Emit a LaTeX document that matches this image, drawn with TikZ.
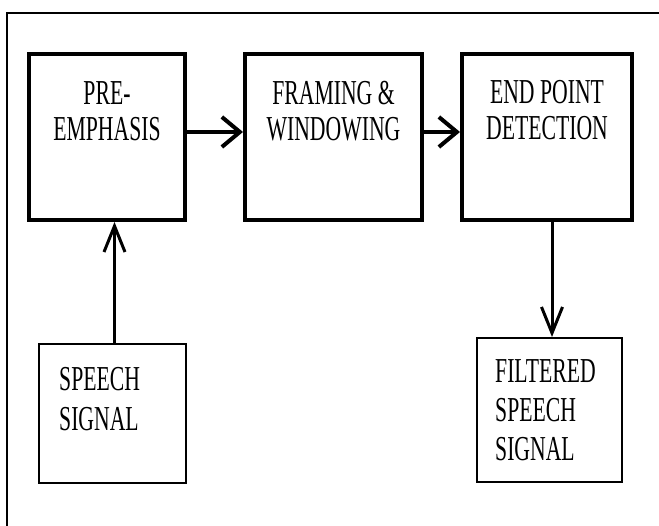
\documentclass[tikz,border=0pt]{standalone}
\usepackage{fontspec}
\usepackage{graphicx}
\newfontfamily\tnr{Liberation Serif}
\usetikzlibrary{arrows.meta}
\newcommand{\sqc}[2]{\scalebox{0.62}[1]{\fontsize{35}{#1}\selectfont\tnr\begin{tabular}{@{}c@{}}#2\end{tabular}}}
\newcommand{\sql}[2]{\scalebox{0.62}[1]{\fontsize{35}{#1}\selectfont\tnr\begin{tabular}{@{}l@{}}#2\end{tabular}}}
\tikzset{
  bigbox/.style={draw, line width=4pt, minimum height=166pt, inner sep=0pt},
  smallbox/.style={draw, line width=2pt, inner sep=0pt},
  lbl/.style={inner sep=0pt},
  lbll/.style={inner sep=0pt, anchor=north west},
  harrow/.style={line width=4pt, -{Straight Barb[length=18pt,width=30pt,line width=4pt]}},
  varrow/.style={line width=3pt, -{Straight Barb[length=26pt,width=21pt,line width=3pt]}},
}
\begin{document}
\begin{tikzpicture}[x=1pt,y=-1pt]
\useasboundingbox (0,0) rectangle (659,526);
\draw[line width=2pt] (659,13) -- (7,13) -- (7,526);

\node[bigbox, minimum width=156pt] (pre) at (107,137) {};
\node[bigbox, minimum width=177pt] (frame) at (333.5,137) {};
\node[bigbox, minimum width=170pt] (endp) at (547,137) {};
\node[smallbox, minimum width=147pt, minimum height=139pt] (speech) at (112.5,413.5) {};
\node[smallbox, minimum width=145pt, minimum height=144pt] (filt) at (549.5,410) {};

\node[lbl] (tpre) at (107,115) {\sqc{36}{PRE-\\EMPHASIS}};
\node[lbl] (tframe) at (333.5,115) {\sqc{36}{FRAMING \&\\WINDOWING}};
\node[lbl] (tendp) at (547,114) {\sqc{36}{END POINT\\DETECTION}};
\node[lbll] (tspeech) at (59,362) {\sql{40}{SPEECH\\SIGNAL}};
\node[lbll] (tfilt) at (495,355) {\sql{39}{FILTERED\\SPEECH\\SIGNAL}};

\draw[harrow] (pre.east |- 0,132) -- (frame.west |- 0,132);
\draw[harrow] (frame.east |- 0,132) -- (endp.west |- 0,132);
\draw[varrow] ([xshift=2pt]speech.north) -- ([xshift=2pt]speech.north |- pre.south);
\draw[varrow] ([xshift=5pt]endp.south) -- ([xshift=5pt]endp.south |- filt.north);
\end{tikzpicture}
\end{document}
